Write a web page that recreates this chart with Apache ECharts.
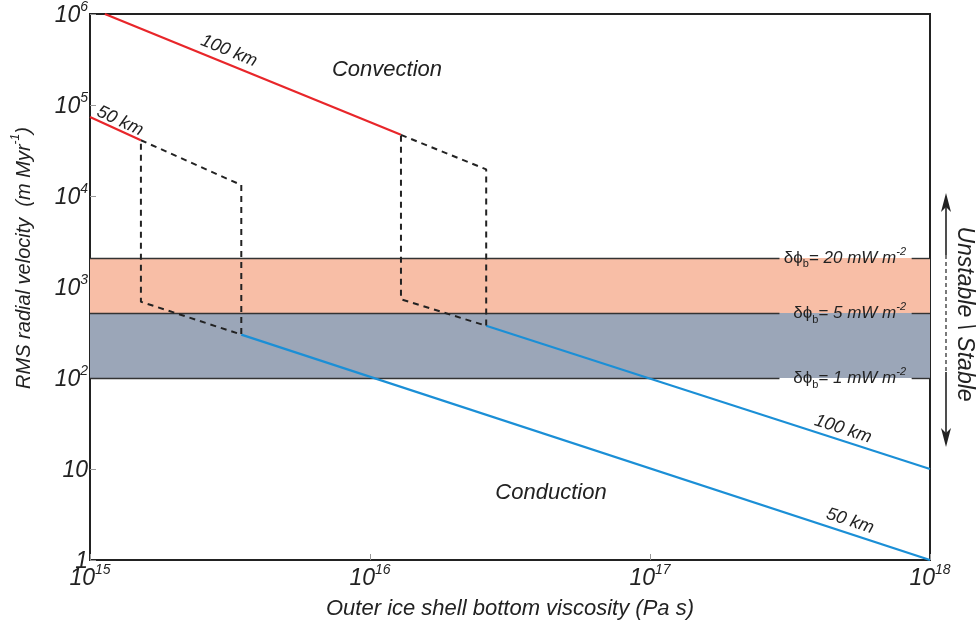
<!DOCTYPE html>
<html>
<head>
<meta charset="utf-8">
<script src="https://cdn.jsdelivr.net/npm/echarts@6/dist/echarts.min.js"></script>
<style>html,body{margin:0;padding:0;background:#fff;}#c{width:980px;height:628px;}</style>
</head>
<body>
<div id="c"></div>
<script>
// ---- data ----
const xExponents = [15, 16, 17, 18];
const yExponents = [0, 1, 2, 3, 4, 5, 6];
const convect100 = [[1.13e15, 1.0e6], [1.29e16, 4.7e4]];
const convect50 = [[1.0e15, 7.4e4], [1.52e15, 4.1e4]];
const conduct100 = [[2.6e16, 375], [1.0e18, 10]];
const conduct50 = [[3.47e15, 300], [1.0e18, 1]];
const transition100 = [[1.29e16, 4.7e4], [2.6e16, 1.96e4], [2.6e16, 375], [1.29e16, 733], [1.29e16, 4.7e4]];
const transition50 = [[1.52e15, 4.1e4], [3.47e15, 1.32e4], [3.47e15, 300], [1.52e15, 689], [1.52e15, 4.1e4]];
const fluxLevels = [2085, 518, 100];
const fluxLabels = ['20', '5', '1'];
const regionNames = ['Convection', 'Conduction'];

const FONT = "'Liberation Sans', Arial, Helvetica, sans-serif";
const RED = '#e8262a', BLUE = '#1b8fd6';
const chart = echarts.init(document.getElementById('c'), null, {renderer: 'canvas'});

function sup(exp) { return '{n|10}{s|' + exp + '}'; }
const labelRich = {
  n: {fontSize: 23, fontStyle: 'italic', fontFamily: FONT, color: '#222', verticalAlign: 'bottom', lineHeight: 27},
  s: {fontSize: 14, fontStyle: 'italic', fontFamily: FONT, color: '#222', verticalAlign: 'top', lineHeight: 27}
};

const gapStart = 2.9e17, gapEnd = 8.6e17;
const bandLineData = [];
fluxLevels.forEach(v => {
  bandLineData.push([{coord: [1e15, v]}, {coord: [gapStart, v]}]);
  bandLineData.push([{coord: [gapEnd, v]}, {coord: [1e18, v]}]);
});

const lineSeries = (data, color, dashed) => ({
  type: 'line', data: data, symbol: 'none', silent: true, z: 5,
  lineStyle: {color: color, width: dashed ? 2 : 2.2, type: dashed ? [6, 5] : 'solid'}
});

const option = {
  animation: false,
  backgroundColor: '#fff',
  grid: {left: 90, right: 50, top: 14, bottom: 68, show: true, borderColor: '#222', borderWidth: 2, backgroundColor: 'transparent'},
  xAxis: {
    type: 'log', logBase: 10, min: 1e15, max: 1e18,
    name: 'Outer ice shell bottom viscosity (Pa s)', nameLocation: 'middle', nameGap: 38,
    nameTextStyle: {fontSize: 22, fontStyle: 'italic', fontFamily: FONT, color: '#222'},
    axisLine: {show: false},
    axisTick: {show: true, inside: true, length: 6, lineStyle: {color: '#999', width: 1}},
    splitLine: {show: false},
    axisLabel: {margin: 3, formatter: v => sup(Math.round(Math.log10(v))), rich: labelRich}
  },
  yAxis: {
    type: 'log', logBase: 10, min: 1, max: 1e6,
    axisLine: {show: false},
    axisTick: {show: true, inside: true, length: 6, lineStyle: {color: '#999', width: 1}},
    splitLine: {show: false},
    axisLabel: {margin: 2, formatter: v => {
      const e = Math.round(Math.log10(v));
      if (e === 0) return '{n|1}';
      if (e === 1) return '{n|10}';
      return sup(e);
    }, rich: labelRich}
  },
  series: [
    {
      type: 'line', data: [], silent: true, z: 1,
      markArea: {silent: true, data: [
        [{yAxis: fluxLevels[1], itemStyle: {color: '#f8bea6'}}, {yAxis: fluxLevels[0]}],
        [{yAxis: fluxLevels[2], itemStyle: {color: '#9ba6b8'}}, {yAxis: fluxLevels[1]}]
      ]},
      markLine: {silent: true, symbol: 'none', label: {show: false},
        lineStyle: {color: '#333', width: 1.4, type: 'solid'}, data: bandLineData}
    },
    lineSeries(convect100, RED, false),
    lineSeries(convect50, RED, false),
    lineSeries(conduct100, BLUE, false),
    lineSeries(conduct50, BLUE, false),
    lineSeries(transition100, '#222', true),
    lineSeries(transition50, '#222', true)
  ]
};
chart.setOption(option);

// ---- annotations ----
const px = (x, y) => chart.convertToPixel({gridIndex: 0}, [x, y]);
const tStyle = (text, size, extra) => Object.assign({text: text, fontSize: size, fontStyle: 'italic', fontFamily: FONT, fill: '#222', align: 'center', verticalAlign: 'middle'}, extra || {});
const graphics = [];
const deg = Math.PI / 180;

// y-axis title
graphics.push({type: 'text', x: 22, y: 258, rotation: 90 * deg, z: 10, style: {
  text: '{a|RMS radial velocity  (m Myr}{s|-1}{a|)}', align: 'center', verticalAlign: 'middle',
  rich: {
    a: {fontSize: 20, fontStyle: 'italic', fontFamily: FONT, fill: '#222', verticalAlign: 'bottom', lineHeight: 24},
    s: {fontSize: 12, fontStyle: 'italic', fontFamily: FONT, fill: '#222', verticalAlign: 'top', lineHeight: 24}
  }
}});

graphics.push({type: 'text', x: 387, y: 70, style: tStyle(regionNames[0], 22), z: 10});
graphics.push({type: 'text', x: 551, y: 493, style: tStyle(regionNames[1], 22), z: 10});

graphics.push({type: 'text', x: 229, y: 51, rotation: -22 * deg, style: tStyle('100 km', 18), z: 10});
graphics.push({type: 'text', x: 120, y: 121, rotation: -25 * deg, style: tStyle('50 km', 18), z: 10});
graphics.push({type: 'text', x: 843, y: 429, rotation: -18 * deg, style: tStyle('100 km', 18), z: 10});
graphics.push({type: 'text', x: 850, y: 521, rotation: -18 * deg, style: tStyle('50 km', 18), z: 10});

fluxLevels.forEach((v, i) => {
  const p = px(1e17, v);
  graphics.push({type: 'text', x: 906, y: p[1], z: 10, style: {
    text: '{g|δϕ}{b|b}{t|= ' + fluxLabels[i] + ' mW m}{e|-2}',
    align: 'right', verticalAlign: 'middle',
    rich: {
      g: {fontSize: 17, fontFamily: FONT, fill: '#222', verticalAlign: 'middle', lineHeight: 24},
      b: {fontSize: 11, fontFamily: FONT, fill: '#222', verticalAlign: 'bottom', lineHeight: 24},
      t: {fontSize: 17, fontStyle: 'italic', fontFamily: FONT, fill: '#222', verticalAlign: 'middle', lineHeight: 24},
      e: {fontSize: 11, fontStyle: 'italic', fontFamily: FONT, fill: '#222', verticalAlign: 'top', lineHeight: 24}
    }
  }});
});

// Unstable / Stable indicator
const ax = 946;
graphics.push({type: 'line', shape: {x1: ax, y1: 205, x2: ax, y2: 255}, style: {stroke: '#222', lineWidth: 1.6}});
graphics.push({type: 'line', shape: {x1: ax, y1: 255, x2: ax, y2: 372}, style: {stroke: '#222', lineWidth: 1.2, lineDash: [4, 3]}});
graphics.push({type: 'line', shape: {x1: ax, y1: 372, x2: ax, y2: 436}, style: {stroke: '#222', lineWidth: 1.6}});
graphics.push({type: 'polygon', shape: {points: [[ax, 193], [ax - 5, 212], [ax, 207], [ax + 5, 212]]}, style: {fill: '#222'}});
graphics.push({type: 'polygon', shape: {points: [[ax, 447], [ax - 5, 428], [ax, 433], [ax + 5, 428]]}, style: {fill: '#222'}});
graphics.push({type: 'text', x: 964, y: 314, rotation: -90 * deg, style: tStyle('Unstable \\ Stable', 23), z: 10});

chart.setOption({graphic: {elements: graphics}});
</script>
</body>
</html>
